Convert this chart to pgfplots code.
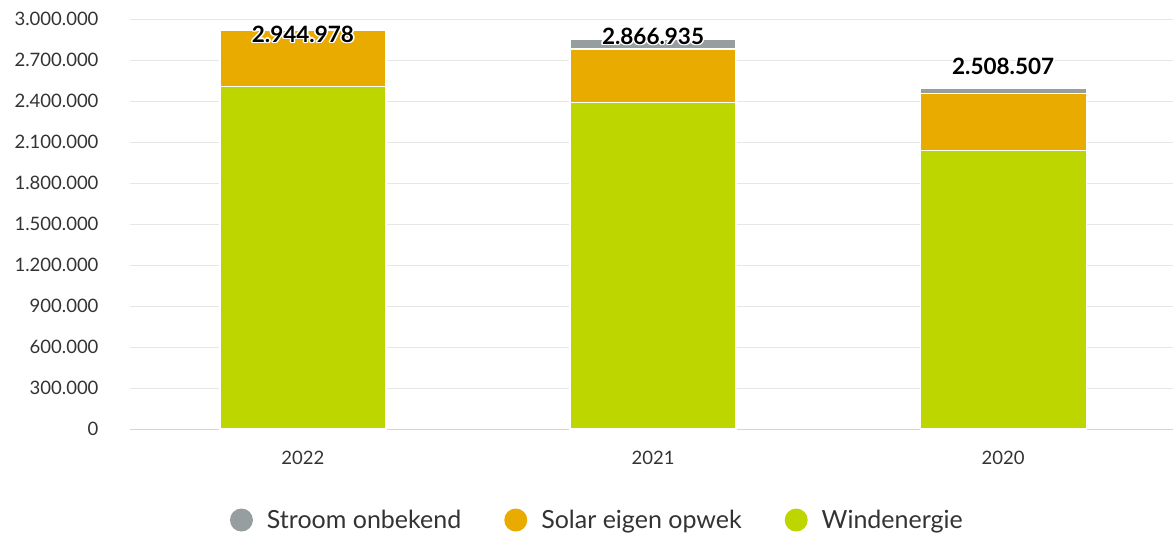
\documentclass[border=0pt]{standalone}
\usepackage{fontspec}
\setmainfont{Lato}
\usepackage{pgfplots}
\pgfplotsset{compat=1.18}
\usepackage{pgfplotstable}
\definecolor{wind}{RGB}{190,214,0}
\definecolor{solar}{RGB}{233,171,0}
\definecolor{stroom}{RGB}{150,158,160}
\definecolor{gridc}{RGB}{230,230,230}
\definecolor{axisc}{RGB}{204,214,235}
\definecolor{txt}{RGB}{51,51,51}

\pgfplotstableread{
x wind solar stroom
0 2506000 414000 0
1 2387000 393000 71000
2 2036000 420000 37000
}\data

\begin{document}
\begin{tikzpicture}
\path[use as bounding box] (-130pt,-104pt) rectangle (1043pt,429pt);
\begin{axis}[
  scale only axis, width=1043pt, height=410pt,
  at={(0pt,0pt)}, anchor=south west,
  ymin=0, ymax=3000000, xmin=-0.494, xmax=2.486,
  ybar stacked, bar width=166pt,
  legend image code/.code={\fill[#1,draw=none] (0pt,0pt) circle (11.5pt);},
  axis lines*=left,
  y axis line style={draw=none},
  x axis line style={axisc, line width=1pt},
  ytick={0,300000,600000,900000,1200000,1500000,1800000,2100000,2400000,2700000,3000000},
  ymajorgrids, grid style={gridc, line width=1pt},
  major tick length=0pt,
  xtick={0,1,2}, xticklabels={2022,2021,2020},
  yticklabel style={font=\fontsize{18.5}{22}\selectfont, text=txt, xshift=-28pt},
  xticklabel style={font=\fontsize{18.5}{22}\selectfont, text=txt, yshift=-19pt},
  scaled y ticks=false,
  /pgf/number format/.cd, fixed, precision=0, 1000 sep={.}, assume math mode=true,
  /pgfplots/.cd,
  reverse legend,
  legend style={at={(0.448,-0.222)}, anchor=center, draw=none, fill=none,
    legend columns=-1, font=\fontsize{25}{30}\selectfont, text=txt,
    /tikz/every odd column/.append style={column sep=12pt},
    /tikz/every even column/.append style={column sep=41pt}},
]
\addplot[fill=wind, draw=white, line width=1.2pt] table[x=x,y=wind] {\data};
\addlegendentry{Windenergie}
\addplot[fill=solar, draw=white, line width=1.2pt] table[x=x,y=solar] {\data};
\addlegendentry{Solar eigen opwek}
\addplot[fill=stroom, draw=white, line width=1.2pt] table[x=x,y=stroom] {\data};
\addlegendentry{Stroom onbekend}
\coordinate (l0) at (axis cs:0,2890000);
\coordinate (l1) at (axis cs:1,2876000);
\coordinate (l2) at (axis cs:2,2656000);
\end{axis}
\foreach \p/\t in {l0/2.944.978, l1/2.866.935, l2/2.508.507} {
  \foreach \a in {0,45,...,315} {
    \node[text=white, font=\bfseries\fontsize{22.5}{26}\selectfont] at ([shift={(\a:1.6pt)}]\p) {\t};
  }
  \node[text=black, font=\bfseries\fontsize{22.5}{26}\selectfont] at (\p) {\t};
}
\end{tikzpicture}
\end{document}
